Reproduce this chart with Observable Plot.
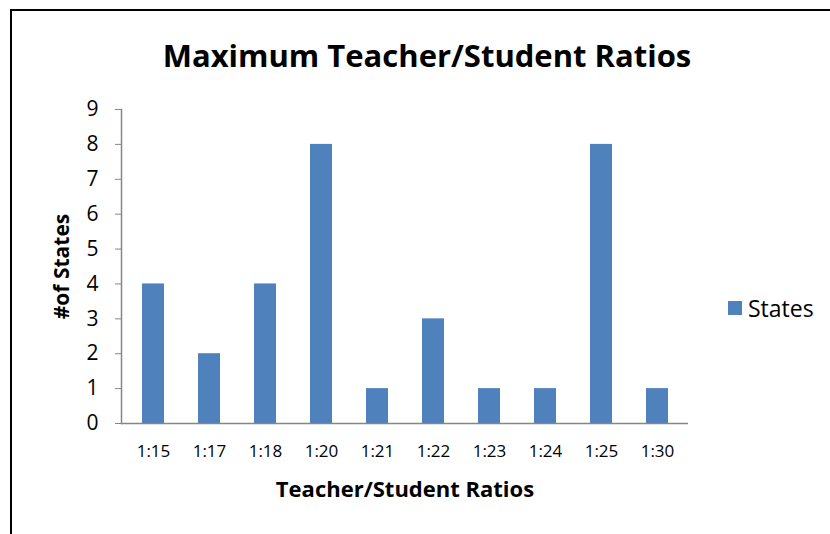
<!DOCTYPE html>
<html>
<head>
<meta charset="utf-8">
<script src="https://cdn.jsdelivr.net/npm/d3@7"></script>
<script src="https://cdn.jsdelivr.net/npm/@observablehq/plot@0.6"></script>
<style>
  html, body { margin: 0; padding: 0; background: #fff; }
  #wrap { position: relative; width: 830px; height: 534px; overflow: hidden; font-family: "Open Sans", Lato, sans-serif; }
  #border { position: absolute; left: 10px; top: 9px; width: 900px; height: 600px; border-left: 2px solid #000; border-top: 2px solid #000; }
  #title { position: absolute; left: 0; width: 854px; top: 35px; text-align: center; font-weight: bold; font-size: 31px; line-height: 40px; color: #000; }
  #legend { position: absolute; left: 728px; top: 294px; font-size: 23px; line-height: 28px; color: #000; display: flex; align-items: center; }
  #legend .sw { width: 14px; height: 14px; background: #4F81BD; margin-right: 6px; }
  #chart { position: absolute; left: 0; top: 0; }
</style>
</head>
<body>
<div id="wrap">
  <div id="border"></div>
  <div id="chart"></div>
  <div id="title">Maximum Teacher/Student Ratios</div>
  <div id="legend"><div class="sw"></div><span>States</span></div>
</div>
<script>
const ratios = ["1:15", "1:17", "1:18", "1:20", "1:21", "1:22", "1:23", "1:24", "1:25", "1:30"];
const states = [4, 2, 4, 8, 1, 3, 1, 1, 8, 1];
const yTicks = [0, 1, 2, 3, 4, 5, 6, 7, 8, 9];

const data = ratios.map((r, i) => ({ratio: r, states: states[i]}));

const plot = Plot.plot({
  width: 830,
  height: 534,
  marginLeft: 121,
  marginRight: 142,
  marginTop: 109,
  marginBottom: 111,
  style: { fontFamily: "'Open Sans', Lato, sans-serif", background: "transparent", color: "#000" },
  x: { domain: ratios, paddingInner: 0.61, paddingOuter: 0.33, label: null },
  y: { domain: [0, 9], label: null },
  marks: [
    Plot.barY(data, { x: "ratio", y: "states", fill: "#4F81BD" }),
    Plot.axisY({ ticks: yTicks, tickSize: 6, tickPadding: 17, fontSize: 21, stroke: "#868686", color: "#000", label: null }),
    Plot.axisX({ tickSize: 0, tickPadding: 21, fontSize: 17, label: null }),
    Plot.ruleY([0], { stroke: "#868686", strokeWidth: 1.5 }),
    Plot.frame({ anchor: "left", stroke: "#868686", strokeWidth: 1.5 }),
    Plot.text(["Teacher/Student Ratios"], { frameAnchor: "bottom", dy: 73, fontSize: 22, fontWeight: "bold", fill: "#000" }),
    Plot.text(["#of States"], { frameAnchor: "left", textAnchor: "middle", dx: -59, rotate: -90, fontSize: 21, fontWeight: "bold", fill: "#000" })
  ]
});
document.getElementById("chart").appendChild(plot);
</script>
</body>
</html>
